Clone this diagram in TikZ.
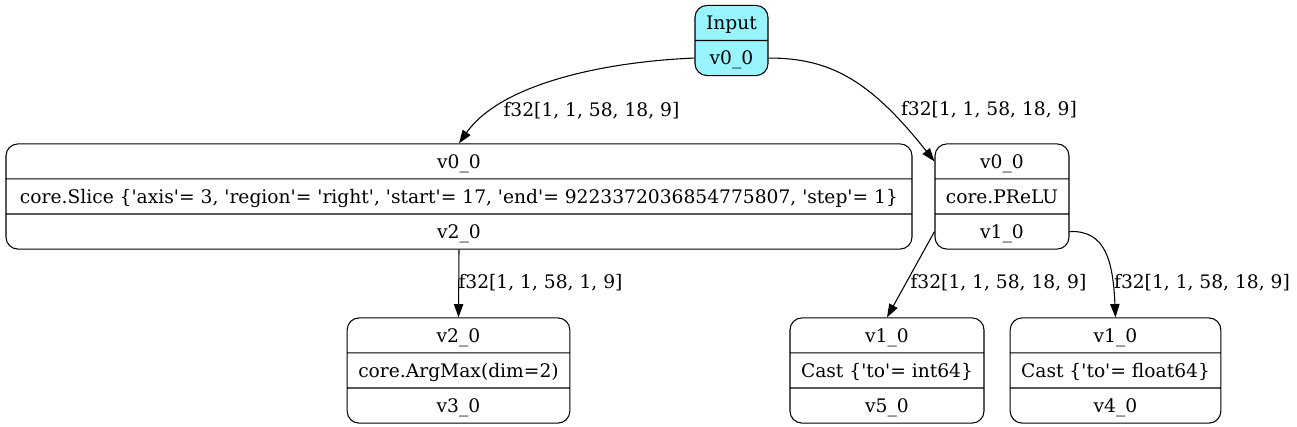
\documentclass[tikz,border=0pt]{standalone}
\usepackage{fontspec}
\setmainfont{DejaVu Serif}
\usetikzlibrary{shapes.multipart, arrows.meta}
\definecolor{myinputcyan}{RGB}{152,245,255}
\newcommand{\cell}[1]{\rule[-4.8pt]{0pt}{19.5pt}#1}
\newcommand{\q}{\textquotesingle}
\newcommand{\shp}[1]{f32[#1]}
\tikzset{
    record/.style={draw, rounded corners=9pt, rectangle split, rectangle split parts=3, inner xsep=5pt, inner ysep=3pt, line width=0.8pt},
    input/.style={record, rectangle split parts=2, fill=myinputcyan},
    edge/.style={-{Triangle[length=10pt, width=7pt]}, line width=0.8pt},
    shape label/.style={inner sep=0pt}
}
\begin{document}
\begin{tikzpicture}[x=0.75pt, y=-0.75pt, font=\fontsize{14pt}{16pt}\selectfont]
    \useasboundingbox (0,0) rectangle (1297,427);
    % records
    \node[input, minimum width=54.75pt] (in) at (731.5,40.5) {\cell{Input}\nodepart{two}\cell{v0\_0}};
    \node[record, minimum width=679.5pt] (slice) at (459,196.5)
        {\cell{v0\_0}\nodepart{two}\cell{core.Slice \{\q axis\q= 3, \q region\q= \q right\q, \q start\q= 17, \q end\q= 9223372036854775807, \q step\q= 1\}}\nodepart{three}\cell{v2\_0}};
    \node[record, minimum width=100.5pt] (prelu) at (1002,196.5) {\cell{v0\_0}\nodepart{two}\cell{core.PReLU}\nodepart{three}\cell{v1\_0}};
    \node[record, minimum width=167pt] (argmax) at (458.5,370.5) {\cell{v2\_0}\nodepart{two}\cell{core.ArgMax(dim=2)}\nodepart{three}\cell{v3\_0}};
    \node[record, minimum width=145.5pt] (castint) at (887,370.5) {\cell{v1\_0}\nodepart{two}\cell{Cast \{\q to\q= int64\}}\nodepart{three}\cell{v5\_0}};
    \node[record, minimum width=158pt] (castfloat) at (1115.5,370.5) {\cell{v1\_0}\nodepart{two}\cell{Cast \{\q to\q= float64\}}\nodepart{three}\cell{v4\_0}};
    % edges
    \draw[edge] (in.two west) .. controls (600,62) and (500,85) .. (slice.north)
        node[shape label] at (591.5,111) {\shp{1, 1, 58, 18, 9}};
    \draw[edge] (in.two east) .. controls (830,58) and (870,80) .. (prelu.text west)
        node[shape label] at (989,110) {\shp{1, 1, 58, 18, 9}};
    \draw[edge] (slice.south) -- (argmax.north)
        node[shape label] at (540.5,283) {\shp{1, 1, 58, 1, 9}};
    \draw[edge] (prelu.three west) -- (castint.north)
        node[shape label] at (998.5,283) {\shp{1, 1, 58, 18, 9}};
    \draw[edge] (prelu.three east) .. controls (1105,230) and (1113,260) .. (castfloat.north)
        node[shape label] at (1202,283) {\shp{1, 1, 58, 18, 9}};
\end{tikzpicture}
\end{document}
